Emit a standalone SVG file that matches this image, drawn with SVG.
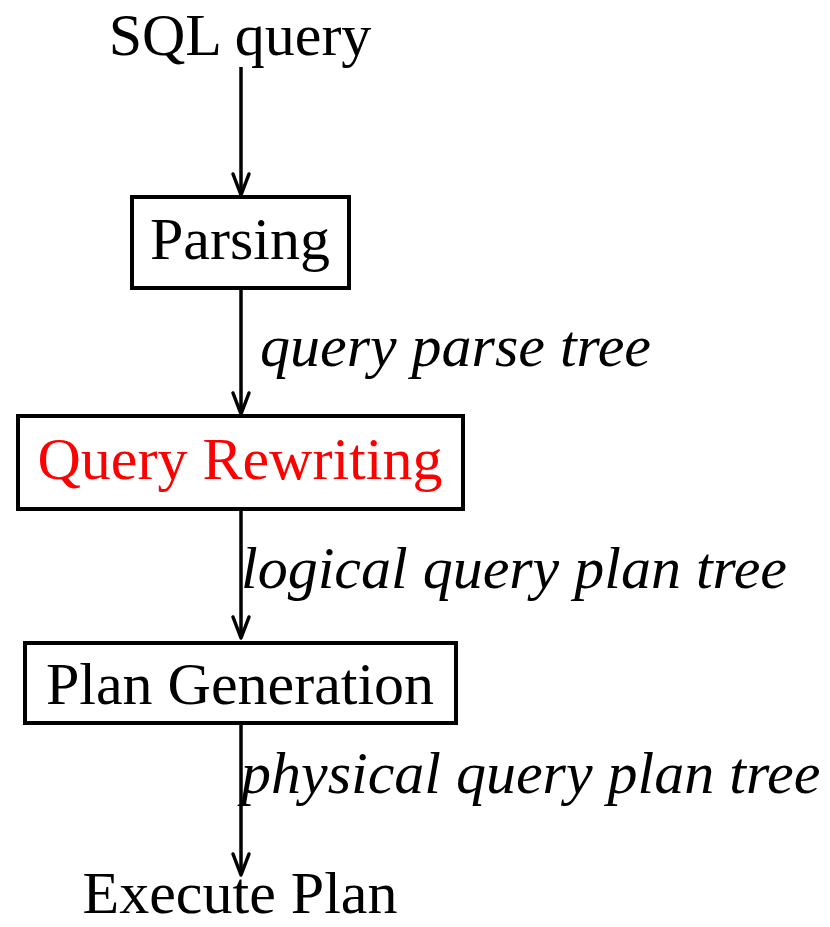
<svg xmlns="http://www.w3.org/2000/svg" width="830" height="927" viewBox="0 0 830 927">
<style>
.t{font-family:"Liberation Serif","Times New Roman",serif;font-size:60px;fill:#000}
.i{font-style:italic}
.box{fill:#fff;stroke:#000;stroke-width:4}
.ln{stroke:#000;stroke-width:3.5;fill:none}
.ah{fill:none;stroke:#000;stroke-width:3.5;stroke-linecap:round;stroke-linejoin:round}
</style>
<defs>
<path id="head" d="M-8,-21 Q-3,-8 0,0 Q3,-8 8,-21" class="ah"/>
</defs>
<g id="n-sql"><text class="t" x="240" y="55" text-anchor="middle">SQL query</text></g>
<g id="n-parsing"><rect class="box" x="132" y="197" width="217" height="91"/><text class="t" x="240" y="259" text-anchor="middle">Parsing</text></g>
<g id="n-rewrite"><rect class="box" x="18" y="416" width="445" height="93"/><text class="t" x="240" y="479" text-anchor="middle" style="fill:#ff0000">Query Rewriting</text></g>
<g id="n-plan"><rect class="box" x="25" y="643" width="431" height="80"/><text class="t" x="240" y="704" text-anchor="middle">Plan Generation</text></g>
<g id="n-exec"><text class="t" x="240" y="913" text-anchor="middle">Execute Plan</text></g>
<g id="connectors">
<line class="ln" x1="241" y1="67" x2="241" y2="194"/><use href="#head" x="241" y="195"/>
<line class="ln" x1="241" y1="288" x2="241" y2="413"/><use href="#head" x="241" y="414"/>
<line class="ln" x1="241" y1="509" x2="241" y2="637"/><use href="#head" x="241" y="638"/>
<line class="ln" x1="241" y1="723" x2="241" y2="874"/><use href="#head" x="241" y="875"/>
<text class="t i" x="260" y="366">query parse tree</text>
<text class="t i" x="241" y="588">logical query plan tree</text>
<text class="t i" x="241" y="793">physical query plan tree</text>
</g>
</svg>
